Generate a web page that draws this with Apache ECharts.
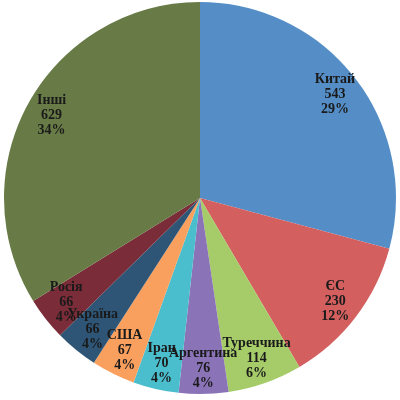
<!DOCTYPE html>
<html>
<head>
<meta charset="utf-8">
<script src="https://cdn.jsdelivr.net/npm/echarts@6/dist/echarts.min.js"></script>
<style>
  html, body { margin: 0; padding: 0; background: #fff; }
  #chart { width: 400px; height: 400px; }
</style>
</head>
<body>
<div id="chart"></div>
<script>
const names = ['Китай', 'ЄС', 'Туреччина', 'Аргентина', 'Іран', 'США', 'Україна', 'Росія', 'Інші']
const values = [543, 230, 114, 76, 70, 67, 66, 66, 629]
const colors = ['#558ec7', '#d35f5f', '#a6cc6a', '#8b73b8', '#4bbecd', '#faa05f', '#2e5576', '#7a2d38', '#687b46']

const pieData = names.map((name, i) => ({ name, value: values[i], itemStyle: { color: colors[i] } }))
const labelData = names.map((name, i) => ({ name, value: values[i] }))

const chart = echarts.init(document.getElementById('chart'))
chart.setOption({
  animation: false,
  series: [
    {
      // the slices
      type: 'pie',
      center: [200, 198],
      radius: [0, 196],
      startAngle: 90,
      clockwise: true,
      silent: true,
      label: { show: false },
      labelLine: { show: false },
      data: pieData
    },
    {
      // transparent ring so labels sit at ~0.85 of radius
      type: 'pie',
      center: [200, 198],
      radius: [138, 196],
      startAngle: 90,
      clockwise: true,
      silent: true,
      avoidLabelOverlap: false,
      itemStyle: { color: 'rgba(0,0,0,0)' },
      label: {
        show: true,
        position: 'inside',
        fontFamily: 'Liberation Serif',
        fontWeight: 'bold',
        fontSize: 14,
        lineHeight: 15,
        color: '#1a1a1a',
        formatter: p => p.name + '\n' + p.value + '\n' + Math.round(p.percent) + '%'
      },
      labelLine: { show: false },
      labelLayout: { hideOverlap: false },
      data: labelData
    }
  ]
})
</script>
</body>
</html>
